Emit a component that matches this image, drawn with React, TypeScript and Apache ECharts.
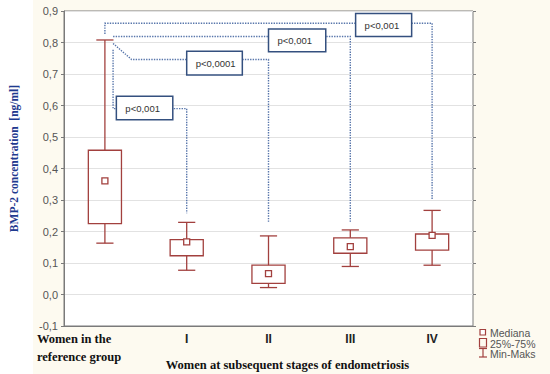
import React, { useEffect, useRef } from 'react';
import * as echarts from 'echarts';

// ---- data ----
const categories = ['Women in the\nreference group', 'I', 'II', 'III', 'IV'];
const minValues = [0.163, 0.077, 0.022, 0.089, 0.093];
const q1Values = [0.225, 0.123, 0.035, 0.131, 0.141];
const medianValues = [0.361, 0.167, 0.066, 0.152, 0.188];
const q3Values = [0.458, 0.174, 0.093, 0.180, 0.192];
const maxValues = [0.808, 0.229, 0.186, 0.205, 0.267];

const pLabels = ['p<0,001', 'p<0,001', 'p<0,0001', 'p<0,001'];
// connector paths: [categoryIndex, bandOffset, value]
const pPaths: number[][][] = [
  [[0, 0, 0.827], [0, 0, 0.861], [4, 0, 0.861], [4, 0, 0.30]],
  [[0, 0.1, 0.819], [3, 0, 0.819], [3, 0, 0.231]],
  [[0, 0.1, 0.797], [0, 0.326, 0.746], [2, 0, 0.746], [2, 0, 0.231]],
  [[0, 0.1, 0.777], [0, 0.1, 0.590], [1, 0, 0.590], [1, 0, 0.258]],
];
// label boxes: [categoryIndex, offsetStart, offsetEnd, valueTop, valueBottom]
const pBoxes: number[][] = [
  [3, 0.065, 0.75, 0.892, 0.819],
  [2, 0.0, 0.70, 0.843, 0.771],
  [1, 0.0, 0.68, 0.772, 0.697],
  [0, 0.14, 0.83, 0.629, 0.555],
];

const BOX_COLOR = '#a2403e';
const ANNO_LINE = '#5876ab';
const ANNO_BORDER = '#34507f';

export default function App() {
  const ref = useRef<HTMLDivElement>(null);
  useEffect(() => {
    document.body.style.margin = '0';
    if (!ref.current) return;
    const chart = echarts.init(ref.current, null, { renderer: 'svg' });

    const boxData = categories.map((_, i) => [i, minValues[i], q1Values[i], medianValues[i], q3Values[i], maxValues[i]]);
    const annoData = pLabels.map((_, i) => [pBoxes[i][0], pBoxes[i][3]]);

    const option: any = {
      animation: false,
      backgroundColor: '#ffffff',
      graphic: [
        { type: 'rect', z: -10, silent: true, shape: { x: 33, y: 0, width: 517, height: 374 }, style: { fill: '#fdfaf0' } },
        // legend
        { type: 'rect', shape: { x: 480, y: 329.5, width: 5.5, height: 5.5 }, style: { fill: '#fff', stroke: BOX_COLOR, lineWidth: 1.2 } },
        { type: 'text', x: 490, y: 332.5, style: { text: 'Mediana', font: '10.5px "Liberation Sans", Arial', fill: '#555', verticalAlign: 'middle' } },
        { type: 'rect', shape: { x: 479.5, y: 338.5, width: 7, height: 8.5 }, style: { fill: 'none', stroke: BOX_COLOR, lineWidth: 1.2 } },
        { type: 'text', x: 490, y: 343.5, style: { text: '25%-75%', font: '10.5px "Liberation Sans", Arial', fill: '#555', verticalAlign: 'middle' } },
        { type: 'line', shape: { x1: 483, y1: 348.5, x2: 483, y2: 357 }, style: { stroke: BOX_COLOR, lineWidth: 1.2 } },
        { type: 'line', shape: { x1: 479, y1: 348.5, x2: 487, y2: 348.5 }, style: { stroke: BOX_COLOR, lineWidth: 1.2 } },
        { type: 'line', shape: { x1: 479, y1: 357, x2: 487, y2: 357 }, style: { stroke: BOX_COLOR, lineWidth: 1.2 } },
        { type: 'text', x: 490, y: 354, style: { text: 'Min-Maks', font: '10.5px "Liberation Sans", Arial', fill: '#555', verticalAlign: 'middle' } },
      ],
      grid: {
        left: 64, right: 77, top: 11, bottom: 48,
        outerBoundsMode: 'none',
        containLabel: false,
        show: true, backgroundColor: '#ffffff', borderColor: '#7a7a7a', borderWidth: 1,
      },
      xAxis: [
        {
          type: 'category',
          data: categories,
          boundaryGap: true,
          axisLine: { onZero: false, lineStyle: { color: '#7a7a7a' } },
          axisTick: { alignWithLabel: true, inside: true, length: 3, lineStyle: { color: '#7a7a7a' } },
          axisLabel: {
            interval: 0,
            margin: 4,
            formatter: (v: string, i: number) =>
              i === 0 ? '{a|Women in the}{p|}\n{a|reference group}{p|}' : '{b|' + v + '}',
            rich: {
              a: { fontFamily: '"Liberation Serif", "Times New Roman", serif', fontWeight: 'bold', fontSize: 12.5, color: '#111', width: 88, align: 'left', lineHeight: 18 },
              p: { width: 48, lineHeight: 18 },
              b: { fontFamily: '"Liberation Sans", Arial, sans-serif', fontWeight: 'bold', fontSize: 12, color: '#222', lineHeight: 18 },
            },
          },
          name: 'Women at subsequent stages of endometriosis',
          nameLocation: 'middle',
          nameGap: 32,
          nameMoveOverlap: false,
          nameTextStyle: { fontFamily: '"Liberation Serif", "Times New Roman", serif', fontWeight: 'bold', fontSize: 12.5, color: '#111', padding: [0, 0, 0, 38] },
          splitLine: { show: false },
        },
        {
          type: 'category', data: categories, position: 'top',
          axisLine: { show: false, onZero: false }, axisLabel: { show: false },
          axisTick: { alignWithLabel: true, inside: true, length: 3, lineStyle: { color: '#7a7a7a' } },
        },
      ],
      yAxis: [
        {
          type: 'value', min: -0.1, max: 0.9, interval: 0.1,
          axisLine: { show: true, onZero: false, lineStyle: { color: '#7a7a7a' } },
          axisTick: { show: true, length: 3, lineStyle: { color: '#7a7a7a' } },
          axisLabel: {
            margin: 6,
            formatter: (v: number) => v.toFixed(1).replace('.', ','),
            fontFamily: '"Liberation Sans", Arial, sans-serif', fontSize: 11, color: '#555',
          },
          splitLine: { show: true, lineStyle: { color: '#e2e2e2', width: 1 } },
          name: 'BMP-2 concentration  [ng/ml]',
          nameLocation: 'middle',
          nameGap: 44,
          nameMoveOverlap: false,
          nameTextStyle: { fontFamily: '"Liberation Serif", "Times New Roman", serif', fontWeight: 'bold', fontSize: 11.5, color: '#1f3a8f', padding: [0, 0, 0, 20] },
        },
        {
          type: 'value', min: -0.1, max: 0.9, interval: 0.1, position: 'right',
          axisLine: { show: false }, axisLabel: { show: false }, splitLine: { show: false },
          axisTick: { show: true, length: 3, lineStyle: { color: '#7a7a7a' } },
        },
      ],
      series: [
        {
          type: 'custom',
          name: 'box',
          data: boxData,
          encode: { x: 0, y: [1, 2, 3, 4, 5] },
          z: 3,
          renderItem: (params: any, api: any) => {
            const x = api.value(0);
            const pMin = api.coord([x, api.value(1)]);
            const pQ1 = api.coord([x, api.value(2)]);
            const pMed = api.coord([x, api.value(3)]);
            const pQ3 = api.coord([x, api.value(4)]);
            const pMax = api.coord([x, api.value(5)]);
            const band = api.size([1, 0])[0];
            const bw = band * 0.405;
            const cw = band * 0.21;
            const ms = 6;
            const cx = pMed[0];
            const st = { stroke: BOX_COLOR, lineWidth: 1.3, fill: 'none' };
            return {
              type: 'group',
              children: [
                { type: 'line', shape: { x1: cx, y1: pMax[1], x2: cx, y2: pQ3[1] }, style: st },
                { type: 'line', shape: { x1: cx, y1: pQ1[1], x2: cx, y2: pMin[1] }, style: st },
                { type: 'line', shape: { x1: cx - cw / 2, y1: pMax[1], x2: cx + cw / 2, y2: pMax[1] }, style: st },
                { type: 'line', shape: { x1: cx - cw / 2, y1: pMin[1], x2: cx + cw / 2, y2: pMin[1] }, style: st },
                { type: 'rect', shape: { x: cx - bw / 2, y: pQ3[1], width: bw, height: pQ1[1] - pQ3[1] }, style: { ...st, fill: 'rgba(255,255,255,0)' } },
                { type: 'rect', shape: { x: cx - ms / 2, y: pMed[1] - ms / 2, width: ms, height: ms }, style: { ...st, fill: '#ffffff' } },
              ],
            };
          },
        },
        {
          type: 'custom',
          name: 'annotations',
          data: annoData,
          encode: { x: 0, y: 1 },
          z: 2,
          clip: false,
          renderItem: (params: any, api: any) => {
            const i = params.dataIndex;
            const band = api.size([1, 0])[0];
            const pt = (c: number, off: number, v: number) => {
              const p = api.coord([c, v]);
              return [p[0] + off * band, p[1]];
            };
            const points = pPaths[i].map((q) => pt(q[0], q[1], q[2]));
            const b = pBoxes[i];
            const tl = pt(b[0], b[1], b[3]);
            const br = pt(b[0], b[2], b[4]);
            return {
              type: 'group',
              children: [
                { type: 'polyline', shape: { points }, style: { stroke: ANNO_LINE, lineWidth: 1.4, lineDash: [1.4, 1.2], fill: 'none' } },
                { type: 'rect', shape: { x: tl[0], y: tl[1], width: br[0] - tl[0], height: br[1] - tl[1] }, style: { fill: '#ffffff', stroke: ANNO_BORDER, lineWidth: 1.5 } },
                { type: 'text', x: tl[0] + 9, y: (tl[1] + br[1]) / 2, style: { text: pLabels[i], font: '9.5px "Liberation Sans", Arial, sans-serif', fill: '#333', verticalAlign: 'middle' } },
              ],
            };
          },
        },
      ],
    };
    chart.setOption(option);
    return () => chart.dispose();
  }, []);
  return <div ref={ref} style={{ width: 550, height: 374 }} />;
}
